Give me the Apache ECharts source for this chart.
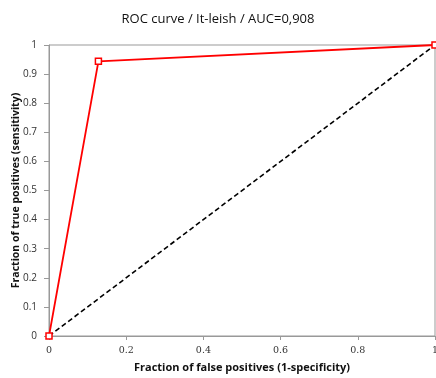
<!DOCTYPE html>
<html><head><meta charset="utf-8">
<script src="https://cdn.jsdelivr.net/npm/echarts@6/dist/echarts.min.js"></script>
<style>html,body{margin:0;padding:0;background:#fff}#c{width:436px;height:378px}</style>
</head><body><div id="c"></div>
<script>
const titleText = 'ROC curve / It-leish / AUC=0,908';
const rocX = [0, 0.128, 1];
const rocY = [0, 0.944, 1];
const diagX = [0, 1];
const diagY = [0, 1];
const xTitle = 'Fraction of false positives (1-specificity)';
const yTitle = 'Fraction of true positives (sensitivity)';

const chart = echarts.init(document.getElementById('c'), null, {renderer: 'canvas'});
chart.setOption({
  animation: false,
  title: {text: titleText, left: 'center', top: 8,
    textStyle: {fontFamily: 'Open Sans', fontSize: 13, fontWeight: 'normal', color: '#111'}},
  grid: {left: 49, right: 1, top: 45, bottom: 42, show: true, borderColor: '#999', borderWidth: 1,
    containLabel: false, outerBoundsMode: 'none'},
  xAxis: {type: 'value', min: 0, max: 1, interval: 0.2,
    name: xTitle, nameLocation: 'middle', nameGap: 26, nameMoveOverlap: false,
    nameTextStyle: {fontFamily: 'Open Sans', fontSize: 11, fontWeight: 'bold', color: '#111'},
    axisLine: {lineStyle: {color: '#999'}},
    axisTick: {show: true, inside: false, length: 4, lineStyle: {color: '#999'}},
    splitLine: {show: false},
    axisLabel: {margin: 10, fontFamily: 'DejaVu Serif', fontSize: 9.5, color: '#333'}},
  yAxis: {type: 'value', min: 0, max: 1, interval: 0.1,
    name: yTitle, nameLocation: 'middle', nameGap: 27, nameMoveOverlap: false,
    nameTextStyle: {fontFamily: 'Open Sans', fontSize: 10.5, fontWeight: 'bold', color: '#111'},
    axisLine: {show: true, lineStyle: {color: '#999'}},
    axisTick: {show: true, length: 5, lineStyle: {color: '#999'}},
    splitLine: {show: false},
    axisLabel: {margin: 12, formatter: v => String(+v.toFixed(1)),
      fontFamily: 'Open Sans', fontSize: 10, color: '#333'}},
  series: [
    {type: 'line', data: diagX.map((x, i) => [x, diagY[i]]), showSymbol: false, symbol: 'none',
     lineStyle: {color: '#000', width: 1.6, type: [5, 3]}, z: 2, silent: true},
    {type: 'line', data: rocX.map((x, i) => [x, rocY[i]]), symbol: 'rect', symbolSize: 6,
     itemStyle: {color: '#fff', borderColor: '#ff0000', borderWidth: 1.5},
     lineStyle: {color: '#ff0000', width: 1.8}, z: 3, clip: false}
  ]
});
</script></body></html>
